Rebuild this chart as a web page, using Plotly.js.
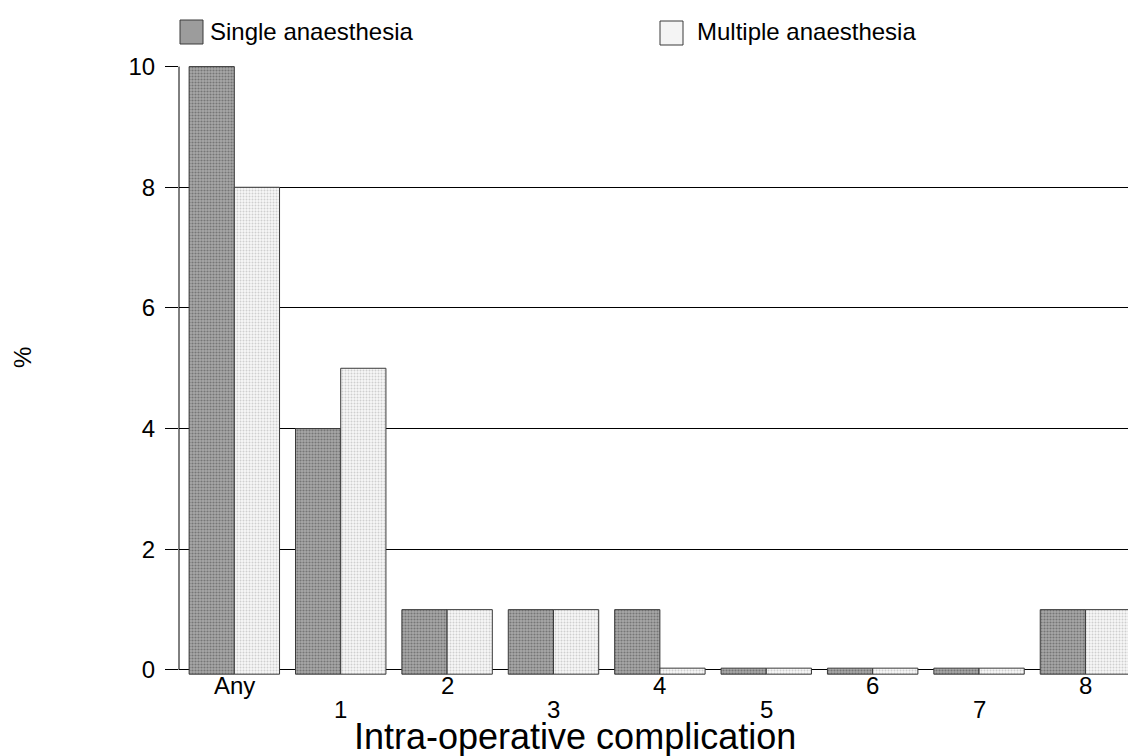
<!DOCTYPE html>
<html>
<head>
<meta charset="utf-8">
<script src="https://cdn.plot.ly/plotly-3.0.1.min.js"></script>
<style>html,body{margin:0;padding:0;background:#fff;}#chart{width:1128px;height:756px;}</style>
</head>
<body>
<div id="chart"></div>
<script>
var categories = ["Any", "1", "2", "3", "4", "5", "6", "7", "8"];
var upperRowLabels = ["Any", "", "2", "", "4", "", "6", "", "8"];
var lowerRowLabels = ["", "1", "", "3", "", "5", "", "7", ""];
var singleValues = [10, 4, 1, 1, 1, 0, 0, 0, 1];
var multipleValues = [8, 5, 1, 1, 0, 0, 0, 0, 1];
var seriesNames = ["Single anaesthesia", "Multiple anaesthesia"];
var yTicks = [0, 2, 4, 6, 8, 10];

var BASE = -0.07;
function heights(vals) { return vals.map(function (v) { return Math.max(v, 0.03) - BASE; }); }

var font = "Liberation Sans, Arial, sans-serif";
var W = 949, H = 610, L = 179, T = 66;
function px(x) { return (x - L) / W; }
function py(y) { return (T + H - y) / H; }

var traces = [
  {
    type: "bar", name: seriesNames[0], x: categories, y: heights(singleValues), base: BASE,
    marker: { color: "#9c9c9c", line: { color: "#3a3a3a", width: 1 },
      pattern: { shape: ".", bgcolor: "#a8a8a8", fgcolor: "#767676", size: 3, solidity: 0.4 } },
    hoverinfo: "skip"
  },
  {
    type: "bar", name: seriesNames[1], x: categories, y: heights(multipleValues), base: BASE,
    marker: { color: "#f2f2f2", line: { color: "#3a3a3a", width: 1 },
      pattern: { shape: ".", bgcolor: "#f8f8f8", fgcolor: "#cfcfcf", size: 3, solidity: 0.35 } },
    hoverinfo: "skip"
  }
];

var annotations = [
  { text: seriesNames[0], xref: "paper", yref: "paper", x: px(208), y: py(31),
    xanchor: "left", yanchor: "middle", showarrow: false, font: { family: font, size: 24, color: "#000" } },
  { text: seriesNames[1], xref: "paper", yref: "paper", x: px(695), y: py(31),
    xanchor: "left", yanchor: "middle", showarrow: false, font: { family: font, size: 24, color: "#000" } },
  { text: "Intra-operative complication", xref: "paper", yref: "paper", x: px(575), y: py(736),
    xanchor: "center", yanchor: "middle", showarrow: false, font: { family: font, size: 36, color: "#000" } },
  { text: "%", xref: "paper", yref: "paper", x: px(22), y: py(358), textangle: -90,
    xanchor: "center", yanchor: "middle", showarrow: false, font: { family: font, size: 24, color: "#000" } }
];
categories.forEach(function (c, i) {
  if (upperRowLabels[i]) {
    annotations.push({ text: upperRowLabels[i], xref: "x", yref: "paper", x: c, y: py(685),
      xanchor: "center", yanchor: "middle", showarrow: false, font: { family: font, size: 24, color: "#000" } });
  }
  if (lowerRowLabels[i]) {
    annotations.push({ text: lowerRowLabels[i], xref: "x", yref: "paper", x: c, y: py(709),
      xanchor: "center", yanchor: "middle", showarrow: false, font: { family: font, size: 24, color: "#000" } });
  }
});

var layout = {
  width: 1128, height: 756,
  margin: { l: L, r: 0, t: T, b: 756 - T - H },
  paper_bgcolor: "#fff", plot_bgcolor: "#fff",
  barmode: "group", bargap: 0.15, bargroupgap: 0,
  showlegend: false,
  font: { family: font, size: 24, color: "#000" },
  xaxis: {
    type: "category", range: [-0.52, 8.4],
    showticklabels: false,
    showgrid: false, zeroline: false, showline: false, ticks: ""
  },
  yaxis: {
    range: [-0.1, 10.01], tickvals: yTicks,
    showgrid: true, gridcolor: "#000", gridwidth: 1,
    zeroline: true, zerolinecolor: "#000", zerolinewidth: 1,
    showline: false, ticks: "outside", ticklen: 13, tickcolor: "#000", tickwidth: 1,
    ticklabelstandoff: 5,
    tickfont: { family: font, size: 24, color: "#000" }
  },
  shapes: [
    { type: "line", xref: "paper", yref: "y", x0: 0, x1: 0, y0: 0, y1: 10, line: { color: "#000", width: 1 } },
    { type: "rect", xref: "paper", yref: "paper", x0: px(180), x1: px(203), y0: py(44), y1: py(20),
      fillcolor: "#9c9c9c", line: { color: "#3a3a3a", width: 1 } },
    { type: "rect", xref: "paper", yref: "paper", x0: px(660), x1: px(683), y0: py(45), y1: py(21),
      fillcolor: "#f4f4f4", line: { color: "#3a3a3a", width: 1 } }
  ],
  annotations: annotations
};

Plotly.newPlot("chart", traces, layout, { displayModeBar: false, staticPlot: true });
</script>
</body>
</html>
